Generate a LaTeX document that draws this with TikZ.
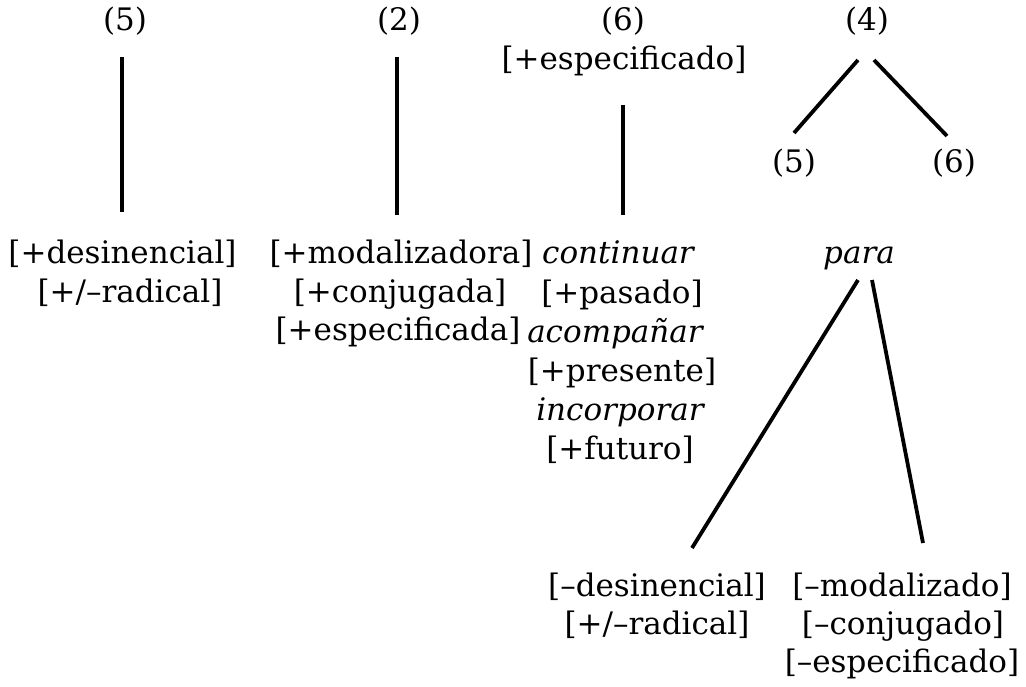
\documentclass[tikz,border=0pt]{standalone}
\usepackage{fontspec}
\setmainfont{DejaVu Serif}
\begin{document}
\begin{tikzpicture}[x=1pt,y=-1pt,
  lbl/.style={anchor=base,inner sep=0pt,font=\fontsize{31}{38}\selectfont},
  it/.style={lbl,font=\fontsize{31}{38}\selectfont\itshape},
  edge/.style={line width=3.8pt}]
\useasboundingbox (0,0) rectangle (1026,687);
% column 1
\node[lbl] (a1) at (125,31) {(5)};
\node[lbl] (a2) at (122.5,264) {[+desinencial]};
\node[lbl] (a3) at (130,302) {[+/–radical]};
\coordinate (a1b) at (122,57);
\coordinate (a2t) at (122,212);
\draw[edge] (a1b) -- (a2t);
% column 2
\node[lbl] (b1) at (399,31) {(2)};
\node[lbl] (b2) at (401,264) {[+modalizadora]};
\node[lbl] (b3) at (400,302) {[+conjugada]};
\node[lbl] (b4) at (398,340) {[+especificada]};
\coordinate (b1b) at (397,57);
\coordinate (b2t) at (397,215);
\draw[edge] (b1b) -- (b2t);
% column 3
\node[lbl] (c1) at (623,31) {(6)};
\node[lbl] (c2) at (624,70) {[+especificado]};
\node[it] (c3) at (618,264) {continuar};
\node[lbl] (c4) at (622,303) {[+pasado]};
\node[it] (c5) at (615,342) {acompañar};
\node[lbl] (c6) at (622,381) {[+presente]};
\node[it] (c7) at (620,420) {incorporar};
\node[lbl] (c8) at (620,459) {[+futuro]};
\coordinate (c2b) at (623,105);
\coordinate (c3t) at (623,215);
\draw[edge] (c2b) -- (c3t);
% column 4
\node[lbl] (d1) at (867,31) {(4)};
\node[lbl] (d2) at (794,173) {(5)};
\node[lbl] (d3) at (954,173) {(6)};
\coordinate (d1l) at (858,60);
\coordinate (d2t) at (794,133);
\coordinate (d1r) at (874,60);
\coordinate (d3t) at (947,136);
\draw[edge] (d1l) -- (d2t);
\draw[edge] (d1r) -- (d3t);
\node[it] (d4) at (859,264) {para};
\coordinate (d4l) at (858,280);
\coordinate (d4r) at (872,280);
\coordinate (e1t) at (692,548);
\coordinate (f1t) at (923,543);
\draw[edge] (d4l) -- (e1t);
\draw[edge] (d4r) -- (f1t);
\node[lbl] (e1) at (657,596) {[–desinencial]};
\node[lbl] (e2) at (657,634) {[+/–radical]};
\node[lbl] (f1) at (902,596) {[–modalizado]};
\node[lbl] (f2) at (903,634) {[–conjugado]};
\node[lbl] (f3) at (902,672) {[–especificado]};
\end{tikzpicture}
\end{document}
